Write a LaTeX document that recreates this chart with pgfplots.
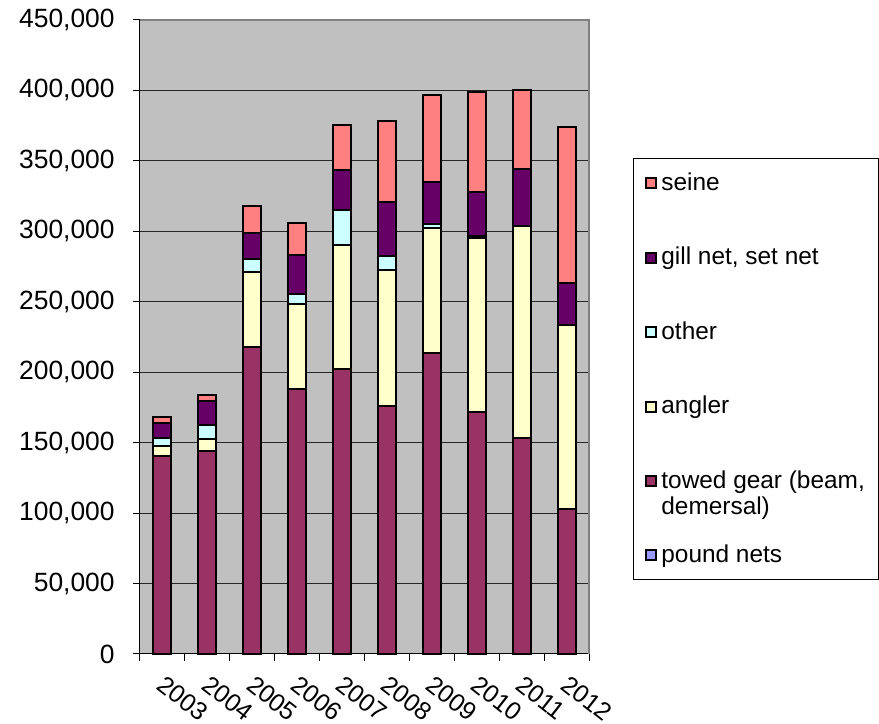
\documentclass[border=0pt]{standalone}
\usepackage{pgfplots}
\pgfplotsset{compat=1.18}
\usepackage{fontspec}
\setmainfont{Liberation Sans}
\definecolor{towed}{HTML}{993366}
\definecolor{angler}{HTML}{FFFFCC}
\definecolor{other}{HTML}{CCFFFF}
\definecolor{gill}{HTML}{660066}
\definecolor{seine}{HTML}{FF8080}
\definecolor{pound}{HTML}{9999FF}
\definecolor{plotbg}{HTML}{C0C0C0}
\pgfplotstableread{
x pound towed angler other gill seine
1 0 140500 7400 5200 11100 4200
2 0 144300 8100 10400 16600 4700
3 0 218100 53300 9000 18600 19000
4 0 187900 60300 7300 27700 22900
5 0 202300 88000 24800 28400 32200
6 0 176200 96400 9900 38500 57500
7 0 213400 88700 2900 30200 61600
8 0 172000 123500 1000 31200 71200
9 0 153100 150700 200 40000 56300
10 0 102900 130600 0 30100 110700
}\datatable
\begin{document}
\begin{tikzpicture}
\begin{axis}[
  scale only axis, width=224.5pt, height=317pt,
  ybar stacked, bar width=9pt,
  xmin=0.5, xmax=10.5, ymin=0, ymax=450000,
  xtick={0.5,1.5,...,10.5}, xticklabels={},
  extra x ticks={1,2,3,4,5,6,7,8,9,10},
  extra x tick labels={2003,2004,2005,2006,2007,2008,2009,2010,2011,2012},
  extra x tick style={major tick length=0pt, grid=none,
    xticklabel style={font=\fontsize{12.5}{14}\selectfont, xshift=1.75pt, yshift=-10pt, rotate=-38, anchor=north west, inner sep=0pt}},
  ytick={0,50000,...,450000},
  scaled y ticks=false,
  /pgf/number format/fixed,
  /pgf/number format/1000 sep={,},
  /pgf/number format/assume math mode=true,
  yticklabel style={inner sep=0pt, xshift=-9pt, font=\fontsize{13.2}{15}\selectfont},
  tick align=outside, major tick length=3.5pt,
  tick style={black, line width=0.5pt},
  ymajorgrids, grid style={black!85, line width=0.5pt},
  axis background/.style={fill=plotbg},
  axis x line*=bottom, axis y line*=left,
  axis line style={black, line width=0.5pt, -},
  clip=false,
  legend cell align=left,
  reverse legend,
  legend image code/.code={\draw[#1, draw=black, line width=1pt] (0.5pt,-2.5pt) rectangle (5.5pt,2.5pt);},
  legend style={draw=none, fill=none, at={(1.098,0.7823)}, anchor=north west,
    inner xsep=6pt, inner ysep=5.5pt, row sep=23.2pt,
    font=\fontsize{12.2}{13}\selectfont,
    cells={anchor=west, inner sep=0pt, text height=8.5pt, text depth=3.5pt}},
  every axis plot/.append style={draw=black, line width=1pt},
]
\addplot[fill=pound] table[x=x, y=pound] {\datatable};
\addlegendentry{pound nets}
\addplot[fill=towed] table[x=x, y=towed] {\datatable};
\addlegendentry{{\begin{tabular}[t]{@{}l@{}}towed gear (beam,\\demersal)\end{tabular}}}
\addplot[fill=angler] table[x=x, y=angler] {\datatable};
\addlegendentry{angler}
\addplot[fill=other] table[x=x, y=other] {\datatable};
\addlegendentry{other}
\addplot[fill=gill] table[x=x, y=gill] {\datatable};
\addlegendentry{gill net, set net}
\addplot[fill=seine] table[x=x, y=seine] {\datatable};
\addlegendentry{seine}
\draw[black!50, line width=1pt] (rel axis cs:0,1) -- (rel axis cs:1,1) -- (rel axis cs:1,0);
\draw[black, line width=0.5pt] (axis description cs:1.098,0.1167) rectangle (axis description cs:1.6437,0.7823);
\end{axis}
\pgfresetboundingbox
\path ([xshift=-70pt,yshift=-35pt]current axis.south west) rectangle ([xshift=145pt,yshift=10pt]current axis.north east);
\end{tikzpicture}
\end{document}
